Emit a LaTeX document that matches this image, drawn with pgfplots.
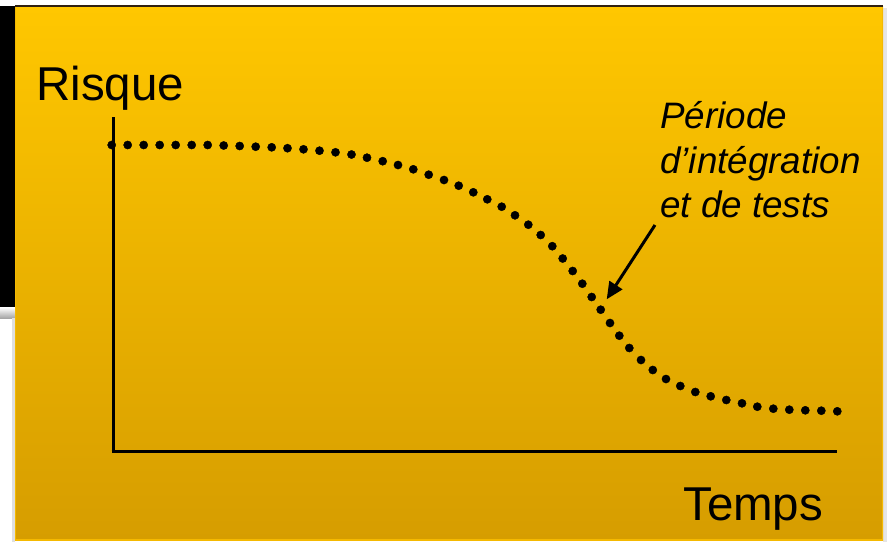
\documentclass[border=0pt]{standalone}
\usepackage{pgfplots}
\pgfplotsset{compat=1.18}
\usepackage{fontspec}
\setmainfont{Liberation Sans}
\usetikzlibrary{arrows.meta}
\definecolor{bgtop}{RGB}{255,199,0}
\definecolor{bgbot}{RGB}{214,157,0}
\definecolor{bgedge}{RGB}{245,185,0}
\begin{document}
\begin{tikzpicture}
\begin{axis}[
  scale only axis, width=887pt, height=542pt,
  xmin=0, xmax=887, ymin=0, ymax=542, y dir=reverse,
  hide axis, clip=false,
]
% page background
\fill[white] (axis cs:0,0) rectangle (axis cs:887,542);
% left black bar and its shadow
\fill[black] (axis cs:0,6) rectangle (axis cs:15,307.5);
\shade[top color=white, bottom color=gray!70] (axis cs:0,307.5) rectangle (axis cs:15,318);
\fill[gray!25] (axis cs:12,318) rectangle (axis cs:15,542);
% right shadow
\fill[gray!20] (axis cs:883,8) rectangle (axis cs:887,542);
% slide box
\shade[top color=bgtop, bottom color=bgbot] (axis cs:15,6) rectangle (axis cs:883,540);
\draw[bgedge, line width=1.2pt] (axis cs:15.6,6) -- (axis cs:15.6,540) -- (axis cs:882.4,540) -- (axis cs:882.4,6);
\draw[black!75!brown, line width=1.6pt] (axis cs:15,6) -- (axis cs:883,6);

% axes of the sketch
\addplot[black, line width=3pt] coordinates {(113,117) (113,449.5)};
\addplot[black, line width=3pt] coordinates {(111.6,451) (837,451)};

% dotted risk curve
\addplot[only marks, mark=*, mark size=4.1pt, black] coordinates {
(111.7,145) (127.7,145) (143.7,145) (159.7,145) (175.7,145) (191.7,145) (207.7,145)
(223.7,145.5) (239.7,146) (255.7,146.7) (271.7,147.3) (287.5,148.2) (303.5,149.3)
(319.5,150.7) (335.5,152.3) (351.5,154.5) (367,157.7) (382.7,161.2) (398,165)
(413.3,169.3) (428.7,174.7) (444,180) (458.7,185.7) (473.3,192.3) (487.3,199.3)
(501.7,206.7) (515,215.3) (528.3,224.7) (540.7,235) (552.3,246.2) (562.7,258.5)
(572.7,271) (582.3,283.7) (591.7,297) (600.7,309.7) (610,323) (619.3,335.7)
(629.3,348) (641,360) (652.8,370) (666,379) (680.3,386) (695.3,392) (710.7,396.3)
(726.3,400) (742,403.3) (757.3,406.7) (773.3,408.7) (789.3,409.7) (805.3,410.3)
(821.3,410.7) (837.3,411.3)
};

% arrow
\draw[-{Triangle[length=17pt,width=15pt]}, line width=3pt] (axis cs:655,225) -- (axis cs:606.7,299.3);

% texts
\node[anchor=base west, inner sep=0pt, font=\fontsize{47.5}{50}\selectfont] at (axis cs:36,100) {Risque};
\node[anchor=base west, inner sep=0pt, font=\fontsize{47.5}{50}\selectfont] at (axis cs:683,520) {Temps};
\node[anchor=base west, inner sep=0pt, font=\itshape\fontsize{36.8}{44}\selectfont] at (axis cs:660,128) {Période};
\node[anchor=base west, inner sep=0pt, font=\itshape\fontsize{36.8}{44}\selectfont] at (axis cs:660,173) {d’intégration};
\node[anchor=base west, inner sep=0pt, font=\itshape\fontsize{36.8}{44}\selectfont] at (axis cs:660,217) {et de tests};
\end{axis}
\end{tikzpicture}
\end{document}
